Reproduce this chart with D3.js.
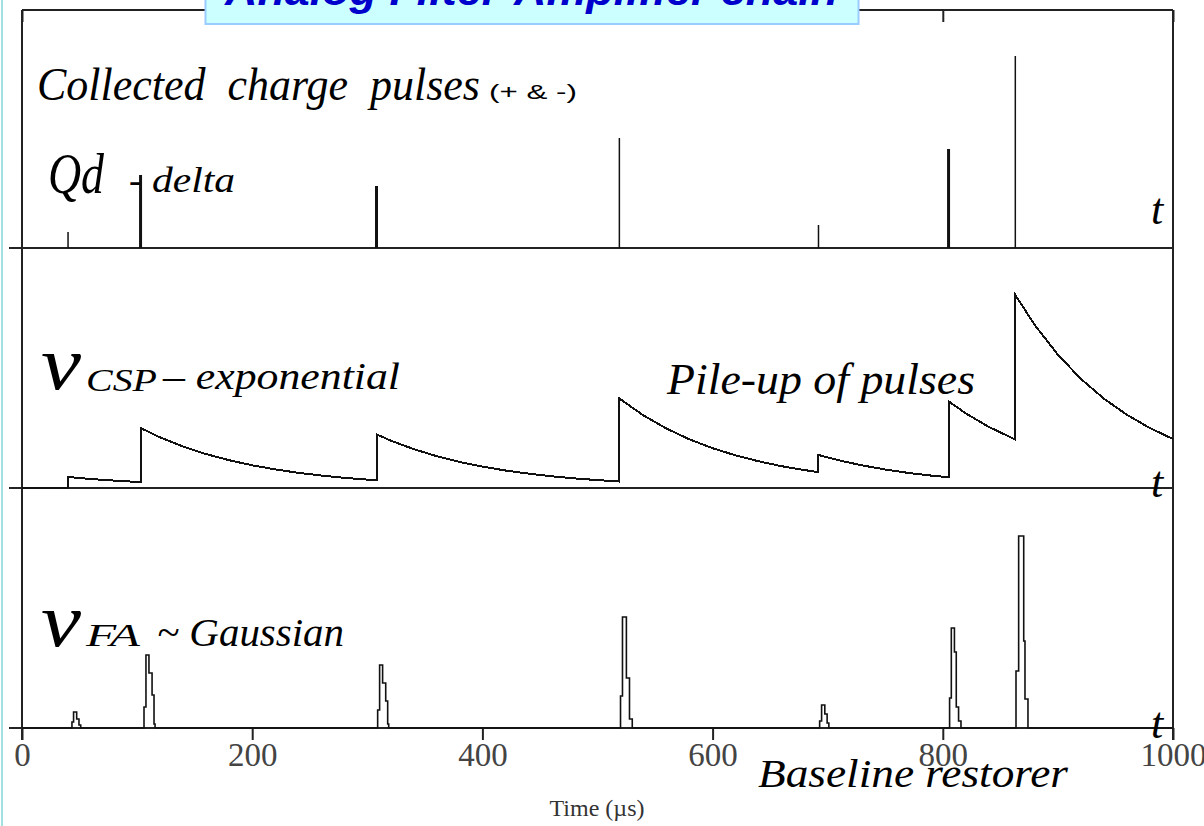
<!DOCTYPE html>
<html>
<head>
<meta charset="utf-8">
<script src="https://cdn.jsdelivr.net/npm/d3@7"></script>
<style>
  body { margin: 0; background: #fff; }
  svg { display: block; }
  .script { font-family: "Liberation Serif", "DejaVu Serif", serif; font-style: italic; fill: #000; }
  .tick text { font-family: "Liberation Serif", serif; font-size: 33px; fill: #444; }
  .tick line { stroke: #222; stroke-width: 2; }
</style>
</head>
<body>
<svg id="chart" width="1204" height="826"></svg>
<script>
// charge pulses: arrival time (µs), collected charge (a.u.), collection time (µs)
const pulseTimes    = [40, 103, 308, 519, 692, 805, 863];
const pulseCharge   = [16, 73, 62, 110, 23, 99, 192];
const pulseDuration = [1.3, 2.6, 2.6, 1.3, 1.3, 2.6, 1.3];

// charge-sensitive preamp output, [t, v]
const cspTrace = [
  [0, 0], [40, 0], [40, 11], [60, 9], [80, 7.4], [103, 5.9],
  [103, 60], [120, 50.6], [140, 41.4], [160, 33.9], [180, 27.8], [200, 22.7],
  [220, 18.6], [240, 15.2], [260, 12.5], [280, 10.2], [300, 8.4], [308, 7.7],
  [308, 53.7], [320, 47.6], [340, 39], [360, 31.9], [380, 26.1], [400, 21.4],
  [420, 17.5], [440, 14.4], [460, 11.7], [480, 9.6], [500, 7.9], [519, 6.5],
  [519, 89.5], [540, 72.5], [560, 59.4], [580, 48.6], [600, 39.8], [620, 32.6],
  [640, 26.7], [660, 21.8], [680, 17.9], [692, 15.9],
  [692, 33], [710, 27.6], [730, 22.6], [750, 18.5], [770, 15.1], [790, 12.4], [805, 10.7],
  [805, 86.7], [820, 74.6], [840, 61.1], [863, 48.5],
  [863, 193], [880, 162.8], [900, 133.3], [920, 109.1], [940, 89.3], [960, 73.2],
  [980, 59.9], [1000, 49]
];

// fast amplifier (shaper) output, sampled steps [t, v]
const faTrace = [
  [0, 0],
  [43.4, 6], [44.8, 16], [47.5, 9], [49.5, 3], [51, 0],
  [106, 21], [107.7, 73], [110.3, 55], [113, 33], [114.7, 4], [115.6, 0],
  [309, 18], [310.7, 63], [313.3, 45], [316, 27], [317.7, 4], [318.6, 0],
  [520, 32], [521.7, 111], [525.1, 50], [527.8, 9], [530.2, 0],
  [693, 7], [694.7, 23], [697.5, 14], [699.5, 5], [701, 0],
  [805.9, 30], [807.4, 100], [810.1, 76], [811.7, 21], [813.7, 7], [815.8, 0],
  [863.6, 57], [865.9, 192], [870.3, 87], [871.4, 29], [874, 0],
  [1000, 0]
];

const xTicks = [0, 200, 400, 600, 800, 1000];

const svg = d3.select('#chart');
const x = d3.scaleLinear([0, 1000], [22, 1173]);
const baselines = [248, 488, 728];
const yPanel = baselines.map(b => d3.scaleLinear([0, 240], [b, b - 240]));
const frameTop = 10;

// slide border on the left
svg.append('line')
  .attr('x1', 2).attr('x2', 2).attr('y1', 0).attr('y2', 826)
  .attr('stroke', '#86d6d6').attr('stroke-width', 1.5);

// frame + baselines
const frame = svg.append('g').attr('stroke', '#222').attr('stroke-width', 2);
frame.append('line').attr('x1', x(0)).attr('x2', x(1000)).attr('y1', frameTop).attr('y2', frameTop);
frame.append('line').attr('x1', x(0)).attr('x2', x(0)).attr('y1', frameTop).attr('y2', 740);
frame.append('line').attr('x1', x(1000)).attr('x2', x(1000)).attr('y1', frameTop).attr('y2', 740);
baselines.forEach(b => {
  frame.append('line').attr('x1', 9).attr('x2', x(1000)).attr('y1', b).attr('y2', b);
});

// bottom axis
const axB = svg.append('g')
  .attr('transform', `translate(0,${baselines[2]})`)
  .call(d3.axisBottom(x).tickValues(xTicks).tickSize(12).tickPadding(3).tickFormat(d3.format('d')));
axB.select('.domain').remove();

// top axis, inward ticks, no labels
const axT = svg.append('g')
  .attr('transform', `translate(0,${frameTop})`)
  .call(d3.axisBottom(x).tickValues(xTicks).tickSize(12).tickFormat(''));
axT.select('.domain').remove();

svg.append('text')
  .attr('x', 597).attr('y', 816)
  .attr('text-anchor', 'middle')
  .attr('font-family', 'Liberation Serif, serif')
  .attr('font-size', 24).attr('fill', '#333')
  .text('Time (µs)');

// panel 1: delta pulses
svg.append('g').selectAll('rect')
  .data(pulseTimes.map((t, i) => ({ t, q: pulseCharge[i], d: pulseDuration[i] })))
  .join('rect')
    .attr('x', d => x(d.t) - (x(d.t + d.d) - x(d.t)) / 2)
    .attr('width', d => x(d.t + d.d) - x(d.t))
    .attr('y', d => yPanel[0](d.q))
    .attr('height', d => baselines[0] - yPanel[0](d.q))
    .attr('fill', '#111');

// panel 2: CSP exponential
svg.append('path')
  .datum(cspTrace)
  .attr('d', d3.line().x(d => x(d[0])).y(d => yPanel[1](d[1])))
  .attr('fill', 'none').attr('stroke', '#111').attr('stroke-width', 2)
  .attr('shape-rendering', 'crispEdges');

// panel 3: shaped Gaussian pulses
svg.append('path')
  .datum(faTrace)
  .attr('d', d3.line().x(d => x(d[0])).y(d => yPanel[2](d[1])).curve(d3.curveStepAfter))
  .attr('fill', 'none').attr('stroke', '#111').attr('stroke-width', 1.6);

// title box (cut by the page top)
svg.append('rect')
  .attr('x', 205.5).attr('y', -40).attr('width', 653).attr('height', 64)
  .attr('fill', '#ccffff').attr('stroke', '#99ccff').attr('stroke-width', 2);
svg.append('text')
  .attr('x', 225).attr('y', 5)
  .attr('font-family', 'Liberation Sans, Arial, sans-serif')
  .attr('font-weight', 'bold').attr('font-style', 'italic')
  .attr('font-size', 42).attr('fill', '#0000cc')
  .attr('textLength', 613).attr('lengthAdjust', 'spacingAndGlyphs')
  .text('Analog Filter-Amplifier chain');

// annotations
function label(txt, px, py, size, len) {
  const t = svg.append('text').attr('class', 'script')
    .attr('x', px).attr('y', py).attr('font-size', size).text(txt);
  if (len) t.attr('textLength', len).attr('lengthAdjust', 'spacingAndGlyphs');
  return t;
}
label('Collected  charge  pulses', 37, 100, 46, 443).attr('xml:space', 'preserve');
svg.append('text')
  .attr('x', 489).attr('y', 99)
  .attr('font-family', 'Liberation Sans, sans-serif').attr('font-size', 20)
  .attr('textLength', 88).attr('lengthAdjust', 'spacingAndGlyphs').text('(+ & -)');
label('Qd', 48, 193, 56, 56);
label('-', 129, 192, 36);
label('delta', 152, 192, 36, 83);

label('v', 41, 389, 76, 40);
label('CSP', 86, 391, 32, 71);
label('– exponential', 163, 389, 38, 237);
label('Pile-up of pulses', 667, 394, 44, 308);

label('v', 41, 646, 76, 40);
label('FA', 86, 646, 32, 54);
label('~ Gaussian', 157, 646, 40, 187);
label('Baseline restorer', 758, 787, 41, 310);

[224, 497, 738].forEach(yy => label('t', 1151, yy, 44));
</script>
</body>
</html>
